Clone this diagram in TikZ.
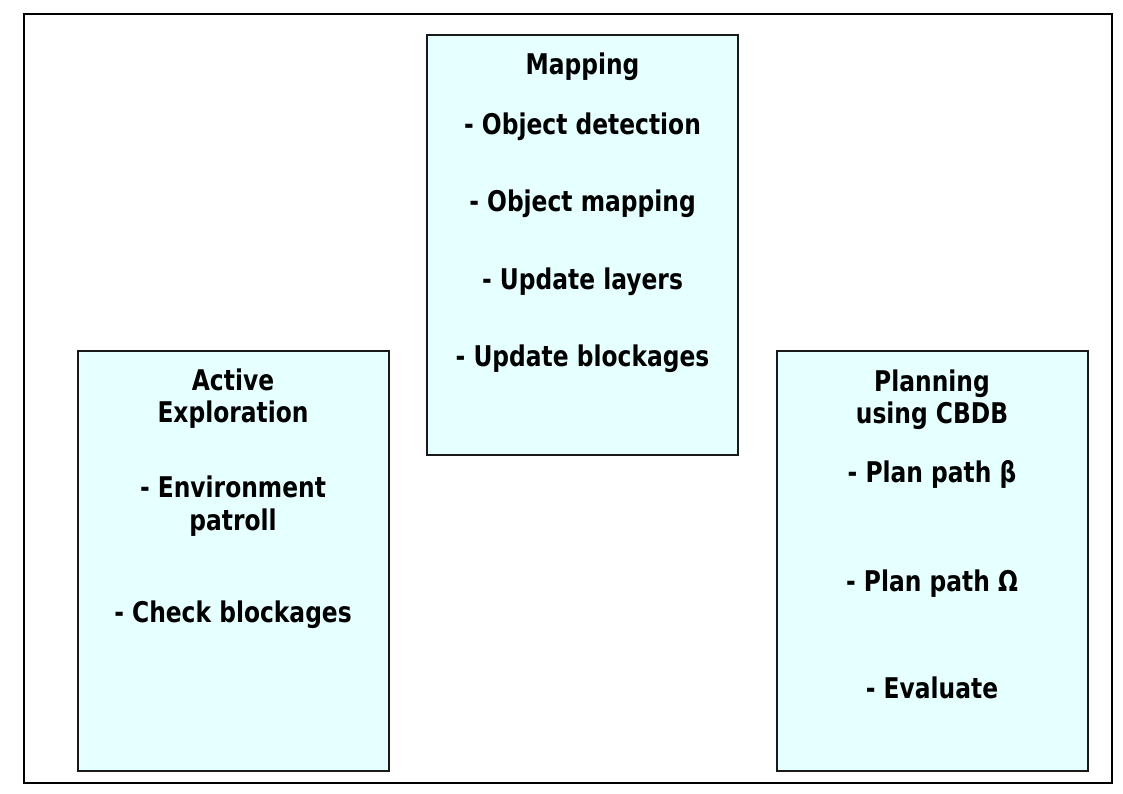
\documentclass[tikz,border=0pt]{standalone}
\usepackage{fontspec}
\newfontfamily\boxfont{DejaVu Sans}[FakeStretch=0.82]
\definecolor{boxfill}{HTML}{E6FFFF}
\begin{document}
\begin{tikzpicture}[x=1pt,y=-1pt,
  frame/.style={draw=black, line width=2pt, fill=white, minimum width=1088pt, minimum height=769pt, inner sep=0pt},
  panel/.style={draw=black!90, line width=2pt, fill=boxfill, minimum width=311pt, minimum height=420pt, inner sep=0pt},
  txt/.style={anchor=base, inner sep=0pt, font=\boxfont\bfseries\fontsize{28.5}{34}\selectfont}]
\useasboundingbox (0,0) rectangle (1123,794);
\node[frame] (outer) at (568,398.5) {};
\node[panel] (map) at (582.5,245) {};
\node[panel] (act) at (233,561) {};
\node[panel] (plan) at (932,561) {};
% Mapping
\node[txt] (m0) at (582.5,75) {Mapping};
\node[txt] (m1) at (582.5,135) {- Object detection};
\node[txt] (m2) at (582.5,212) {- Object mapping};
\node[txt] (m3) at (582.5,289) {- Update layers};
\node[txt] (m4) at (582.5,366) {- Update blockages};
% Active Exploration
\node[txt] (a0) at (233,390) {Active};
\node[txt] (a1) at (233,422) {Exploration};
\node[txt] (a2) at (233,497) {- Environment};
\node[txt] (a3) at (233,530) {patroll};
\node[txt] (a4) at (233,622) {- Check blockages};
% Planning
\node[txt] (p0) at (932,391) {Planning};
\node[txt] (p1) at (932,423) {using CBDB};
\node[txt] (p2) at (932,482) {- Plan path β};
\node[txt] (p3) at (932,591) {- Plan path Ω};
\node[txt] (p4) at (932,698) {- Evaluate};
\end{tikzpicture}
\end{document}
